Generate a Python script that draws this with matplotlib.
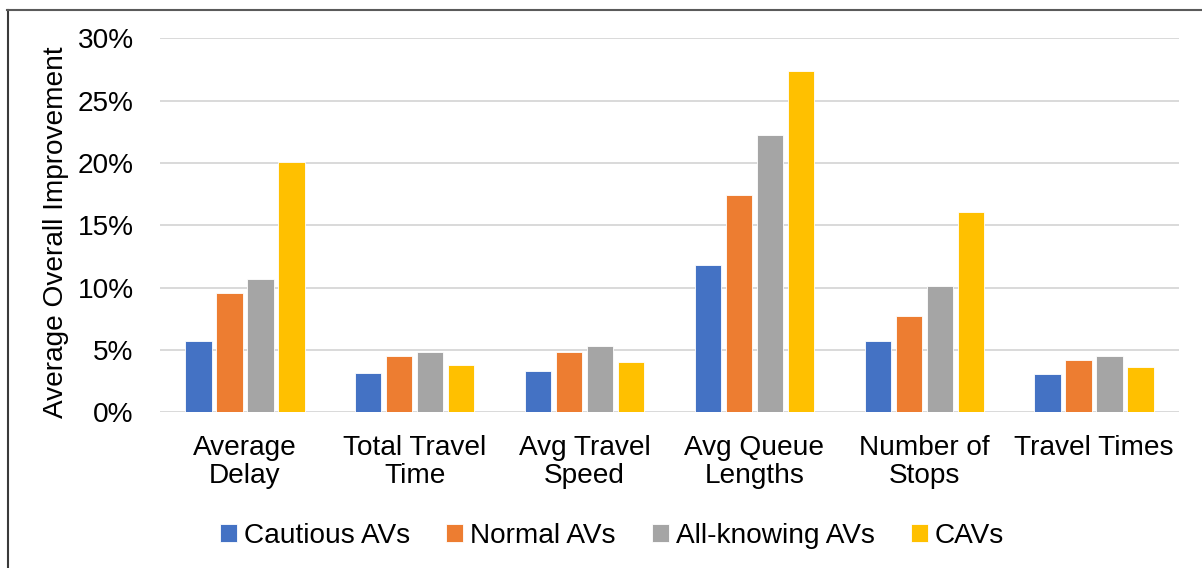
import matplotlib
matplotlib.use("Agg")
import matplotlib.pyplot as plt
import numpy as np
from matplotlib.lines import Line2D
from matplotlib.ticker import FuncFormatter

plt.rcParams['font.family'] = ['Liberation Sans', 'DejaVu Sans']

categories = ["Average\nDelay", "Total Travel\nTime", "Avg Travel\nSpeed",
              "Avg Queue\nLengths", "Number of\nStops", "Travel Times"]
series_names = ["Cautious AVs", "Normal AVs", "All-knowing AVs", "CAVs"]
cautious = [5.72, 3.19, 3.35, 11.80, 5.73, 3.11]
normal = [9.57, 4.51, 4.84, 17.40, 7.74, 4.16]
all_knowing = [10.72, 4.84, 5.30, 22.26, 10.10, 4.51]
cavs = [20.08, 3.78, 4.05, 27.40, 16.10, 3.62]
colors = ["#4472C4", "#ED7D31", "#A5A5A5", "#FFC000"]

FS = 20.2
W, H = 1202, 568
fig = plt.figure(figsize=(W / 100, H / 100), dpi=100)
ax = fig.add_axes([160 / W, 1 - 412.3 / H, (1179 - 160) / W, (412.3 - 38.3) / H])

x = np.arange(len(categories))
pitch = 0.1825
bar_w = 0.155
for i, (vals, name, c) in enumerate(zip([cautious, normal, all_knowing, cavs], series_names, colors)):
    ax.bar(x + (i - 1.5) * pitch, np.array(vals) / 100, width=bar_w, color=c,
           edgecolor="white", linewidth=0.6, label=name, zorder=3)

ax.set_xlim(-0.5, len(categories) - 0.5)
ax.set_ylim(0, 0.30)
ax.set_yticks(np.arange(0, 0.301, 0.05))
ax.yaxis.set_major_formatter(FuncFormatter(lambda v, p: f"{v * 100:.0f}%"))
ax.grid(axis="y", color="#d9d9d9", linewidth=1.4, zorder=0)
ax.set_axisbelow(True)
for s in ax.spines.values():
    s.set_visible(False)

ax.set_xticks(x)
ax.set_xticklabels(categories, fontsize=FS, linespacing=1.12)
ax.tick_params(axis="x", length=0, pad=16)
ax.tick_params(axis="y", length=0, pad=19, labelsize=FS)

fig.text(56 / W, 1 - 232 / H, "Average Overall Improvement", rotation=90,
         ha="center", va="center", fontsize=FS)

fig.legend(loc="center", bbox_to_anchor=(612 / W, 1 - 536 / H), ncol=4,
           frameon=False, fontsize=FS, handlelength=0.6, handleheight=0.6,
           handletextpad=0.25, columnspacing=1.3, borderaxespad=0)

# frame lines along the top and left edges
fig.add_artist(Line2D([7.5 / W, 7.5 / W], [0, 1 - 9.5 / H], transform=fig.transFigure,
                      color="#3a3a3a", linewidth=1.5))
fig.add_artist(Line2D([7 / W, 1], [1 - 9.5 / H, 1 - 9.5 / H], transform=fig.transFigure,
                      color="#5a5a5a", linewidth=1.5))

fig.savefig("out.png", dpi=100, facecolor="white")
